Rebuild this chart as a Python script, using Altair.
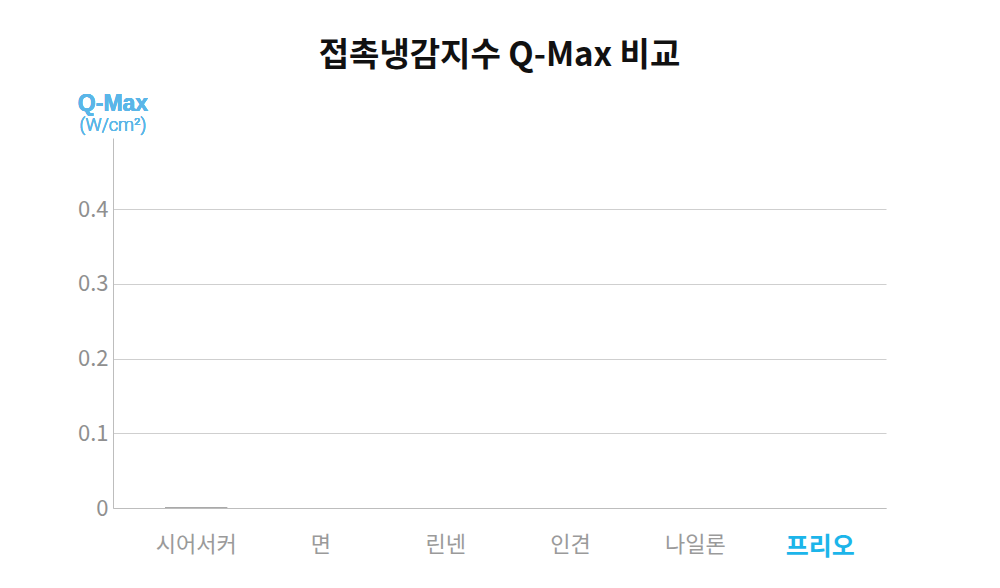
import altair as alt
import pandas as pd

categories = ["시어서커", "면", "린넨", "인견", "나일론", "프리오"]
qmax_values = [0.001, 0, 0, 0, 0, 0]
bar_colors = ["#8c8c8c", "#c8c8c8", "#c8c8c8", "#c8c8c8", "#c8c8c8", "#1cb5ea"]
y_ticks = [0, 0.1, 0.2, 0.3, 0.4]

df = pd.DataFrame({"fabric": categories, "qmax": qmax_values, "color": bar_colors})

FONT = "Noto Sans CJK KR"

bars = alt.Chart(df).mark_bar().encode(
    x=alt.X(
        "fabric:N",
        sort=categories,
        scale=alt.Scale(paddingInner=0.5, paddingOuter=0.347, align=0.6),
        axis=alt.Axis(
            title=None,
            labelAngle=0,
            ticks=False,
            labelPadding=26,
            labelFont=FONT,
            labelFontSize=alt.condition(alt.datum.value == "프리오", alt.value(25), alt.value(22)),
            labelColor=alt.condition(alt.datum.value == "프리오", alt.value("#1cb5ea"), alt.value("#9a9a9a")),
            labelFontWeight=alt.condition(alt.datum.value == "프리오", alt.value("bold"), alt.value("normal")),
            domainColor="#bdbdbd",
            grid=False,
        ),
    ),
    y=alt.Y(
        "qmax:Q",
        scale=alt.Scale(domain=[0, 0.495], nice=False),
        axis=alt.Axis(
            title=None,
            values=y_ticks,
            format="~g",
            ticks=False,
            labelPadding=5,
            labelFont=FONT,
            labelFontSize=22,
            labelColor="#8f8f8f",
            domainColor="#bdbdbd",
            gridColor="#cfcfcf",
        ),
    ),
    color=alt.Color("color:N", scale=None),
)

unit_title = alt.Chart(df).mark_text(
    text="Q-Max", font="Liberation Sans", fontSize=23, fontWeight="bold", color="#5ab6e8", align="center", baseline="middle"
).encode(x=alt.value(0), y=alt.value(-34))

unit_sub = alt.Chart(df).mark_text(
    text="(W/cm²)", font="Roboto", fontSize=18, fontWeight=300, color="#5ab6e8", align="center", baseline="middle"
).encode(x=alt.value(0), y=alt.value(-12))

chart = alt.layer(bars, unit_title, unit_sub).properties(
    width=773,
    height=370,
    background="white",
    title=alt.TitleParams(
        "접촉냉감지수 Q-Max 비교",
        font=FONT,
        fontSize=33,
        fontWeight="bold",
        color="#111111",
        anchor="middle",
        offset=20,
    ),
    autosize=alt.AutoSizeParams(type="none"),
    padding={"left": 105, "top": 130, "right": 106, "bottom": 70},
).configure_view(stroke=None, strokeWidth=0)

chart.save("out.html", embed_options={"renderer": "svg", "actions": False})
